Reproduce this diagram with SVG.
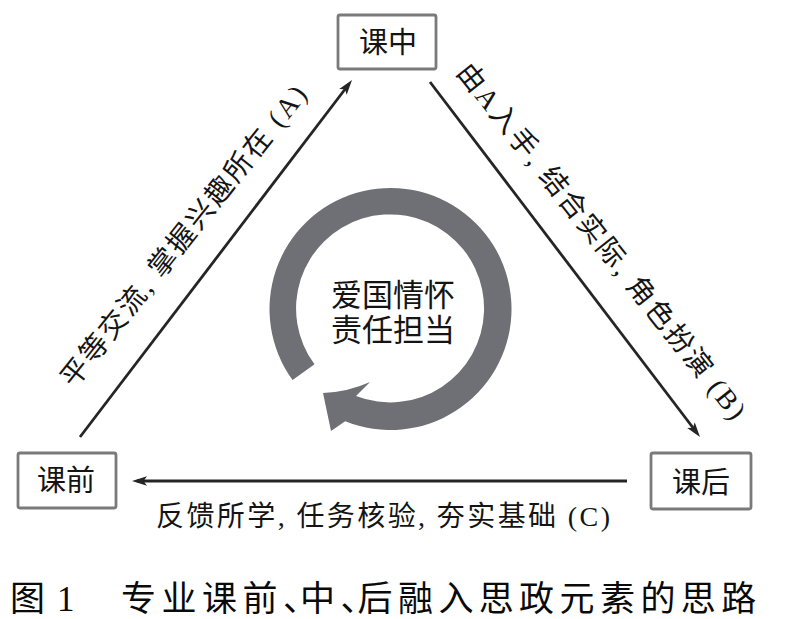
<svg xmlns="http://www.w3.org/2000/svg" width="788" height="619" viewBox="0 0 788 619">
  <style>
    .t { font-family: "Liberation Serif", "Noto Sans CJK SC", serif; fill: #141414; }
    .node rect { fill: #ffffff; stroke: #7a7a7a; stroke-width: 2.8; }
    .node text { font-size: 29px; text-anchor: middle; }
    .edge { fill: none; stroke: #252525; stroke-width: 2.8; marker-end: url(#ah); }
    .elabel { font-size: 28px; }
    .cap { font-size: 35px; fill: #0a0a0a; }
  </style>
  <defs>
    <marker id="ah" markerUnits="userSpaceOnUse" markerWidth="16" markerHeight="11" refX="10" refY="5.5" orient="auto">
      <path d="M0,0.8 L15,5.5 L0,10.2 L3.5,5.5 Z" fill="#252525"/>
    </marker>
  </defs>
  <rect width="788" height="619" fill="#ffffff"/>

  <g id="connectors">
    <line class="edge" x1="80" y1="437" x2="349" y2="84"/>
    <line class="edge" x1="430" y1="82" x2="697" y2="433"/>
    <line class="edge" x1="627" y1="481" x2="137" y2="481"/>
  </g>

  <g id="edge-labels">
    <text class="t elabel" transform="translate(191,242) rotate(-51.5)" text-anchor="middle" textLength="376" lengthAdjust="spacing">平等交流, 掌握兴趣所在 (A)</text>
    <text class="t elabel" transform="translate(594,247) rotate(51.5)" text-anchor="middle" textLength="446" lengthAdjust="spacing">由A入手, 结合实际, 角色扮演 (B)</text>
    <text class="t elabel" x="156" y="526" textLength="454" lengthAdjust="spacing">反馈所学, 任务核验, 夯实基础 (C)</text>
  </g>

  <g id="node-top" class="node">
    <rect x="338" y="15" width="98" height="54" rx="2"/>
    <text class="t" x="388" y="53">课中</text>
  </g>
  <g id="node-left" class="node">
    <rect x="18" y="453" width="98" height="55" rx="2"/>
    <text class="t" x="66" y="491">课前</text>
  </g>
  <g id="node-right" class="node">
    <rect x="651" y="453" width="100" height="56" rx="2"/>
    <text class="t" x="701" y="493">课后</text>
  </g>

  <g id="center-cycle">
    <path d="M292.6,380.1 A121,121 0 1 1 345.2,421.2 L331,431 L323,393 Q348,392 370,382 L356,396 A94,94 0 1 0 314.5,364.3 Z" fill="#6f7075"/>
    <text class="t" x="393" y="306" font-size="31" text-anchor="middle">爱国情怀</text>
    <text class="t" x="393" y="341" font-size="31" text-anchor="middle">责任担当</text>
  </g>

  <g id="caption">
    <text class="t cap" x="10" y="611">图</text>
    <text class="t cap" x="57" y="611">1</text>
    <text class="t cap" y="611" x="121 161.5 202 242.5 283 300 340.5 357.5 398 438.4 478.8 519 559.6 600 640.4 680.8 721.2">专业课前、中、后融入思政元素的思路</text>
  </g>
</svg>
